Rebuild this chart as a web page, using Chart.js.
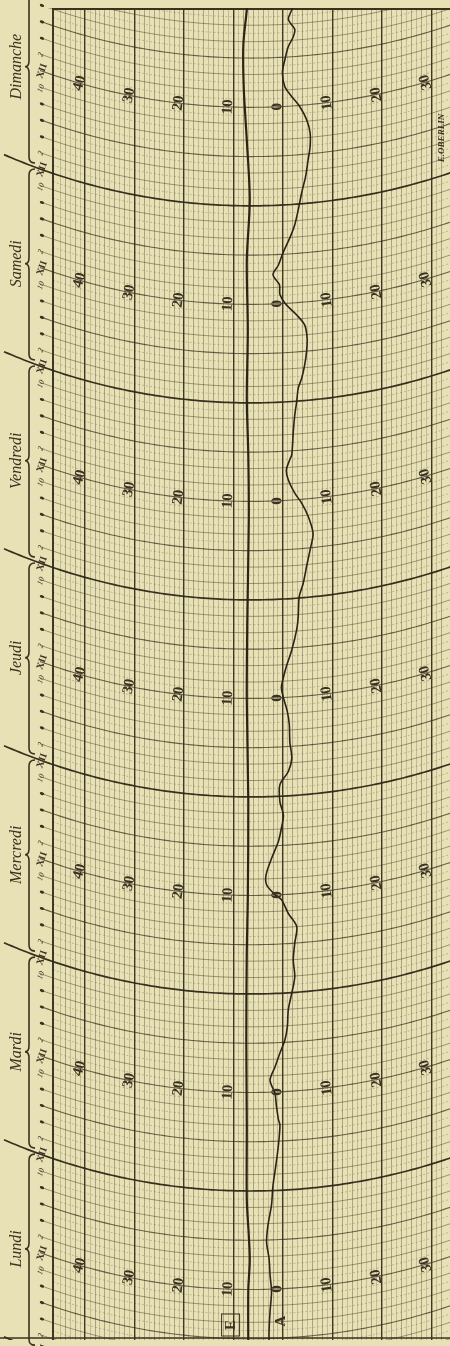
<!DOCTYPE html>
<html lang="fr">
<head>
<meta charset="utf-8">
<title>Diagramme hebdomadaire</title>
<script src="https://cdn.jsdelivr.net/npm/chart.js@4.4.1/dist/chart.umd.min.js"></script>
<style>
  html, body { margin: 0; padding: 0; background: #e8e1b5; }
  #wrap { width: 450px; height: 1346px; position: relative; }
</style>
</head>
<body>
<div id="wrap"><canvas id="diagramme"></canvas></div>
<script>
// Jours de la semaine, de bas en haut
const jours = ["Lundi", "Mardi", "Mercredi", "Jeudi", "Vendredi", "Samedi", "Dimanche"];
// Graduations écrites sur la rangée de midi
const graduations = [-40, -30, -20, -10, 0, 10, 20, 30];

const heuresA = [5.2, 6.9, 9.3, 11.7, 13.8, 15.8, 17.8, 19.9, 22.3, 24.7, 27.2, 29.6, 32.0, 32.7, 34.3, 35.9,
  37.5, 39.1, 40.8, 42.4, 44.0, 46.1, 48.1, 50.1, 52.1, 54.2, 56.2, 57.8, 59.5, 60.1, 61.3, 62.5, 64.5, 66.6,
  68.2, 69.8, 71.4, 73.5, 75.1, 76.7, 78.7, 80.8, 82.4, 84.1, 85.3, 86.3, 87.9, 89.9, 92.4, 94.0, 96.4, 98.0,
  100.1, 102.1, 104.1, 106.2, 107.8, 109.0, 110.6, 111.8, 113.1, 113.7, 116.5, 118.5, 120.2, 121.8, 123.0,
  124.6, 126.3, 127.9, 129.5, 130.7, 132.0, 133.2, 134.4, 135.6, 136.8, 138.4, 140.1, 141.7, 143.5, 145.6,
  147.6, 149.6, 151.2, 152.9, 154.5, 156.1, 157.3, 158.5, 160.2, 161.8, 163.4, 164.6, 165.5, 166.7, 167.9, 169];
const valeursA = [-2.8, -2.8, -2.6, -2.3, -2.6, -2.8, -3.3, -3.0, -2.3, -2.0, -1.4, -0.9, -0.6, -0.9, -1.3, -1.6,
  -2.6, -1.6, -0.6, 0.4, 0.9, 1.1, 1.8, 2.4, 2.1, 2.4, 2.8, 1.1, -0.3, -1.6, -3.3, -3.4, -2.3, -0.9,
  -0.3, 0.1, -0.6, -0.6, 1.1, 1.8, 1.4, 1.3, 0.9, 0.1, -0.3, 0.0, 0.7, 1.8, 2.8, 3.1, 3.3, 4.1,
  4.8, 5.5, 6.1, 5.1, 3.8, 2.4, 1.1, 0.7, 1.4, 1.8, 2.1, 2.4, 2.8, 3.1, 3.8,
  4.4, 4.8, 4.9, 4.4, 2.8, 0.6, -0.6, -0.7, -2.0, -0.9, 0.1, 1.4, 2.4, 3.1, 3.8,
  4.6, 5.1, 5.5, 5.5, 4.8, 3.4, 1.8, 0.4, -0.1, 0.4, 1.1, 2.1, 2.4, 1.1, 1.8, 2.2];

// Ligne E (presque droite)
const heuresE = [5.2, 11.9, 15.6, 18.6, 22.9, 32.0, 42.4, 53.4, 59.5, 71.6, 83.8, 93.6, 105.7, 113.7, 120.4,
  128.9, 137.4, 144.7, 152.0, 158.1, 163.6, 167.9, 169];
const valeursE = [-7.0, -7.0, -6.7, -6.9, -7.3, -7.3, -7.4, -7.3, -7.1, -7.0, -7.3, -7.2, -6.9, -7.0, -7.3,
  -7.1, -7.3, -6.7, -7.3, -7.9, -8.0, -7.3, -7.2];

const encre = '#3a3120';
const RAYON = 620; // rayon des arcs du papier

// y d'un arc (heure t) à la position px
function arcY(chart, t, px) {
  const { x, y } = chart.scales;
  const dx = px - x.getPixelForValue(-6.5);
  return y.getPixelForValue(t) - (RAYON - Math.sqrt(RAYON * RAYON - dx * dx));
}
function pente(chart, px) {
  const dx = px - chart.scales.x.getPixelForValue(-6.5);
  return -dx / Math.sqrt(RAYON * RAYON - dx * dx);
}
function texteTourne(ctx, txt, px, py, angle) {
  ctx.save();
  ctx.translate(px, py);
  ctx.rotate(angle);
  ctx.fillText(txt, 0, 0);
  ctx.restore();
}

const papier = {
  id: 'papier',
  beforeDraw(chart) {
    const c = chart.ctx;
    c.save();
    c.fillStyle = '#e8e1b5';
    c.fillRect(0, 0, chart.width, chart.height);
    c.restore();
  },
  beforeDatasetsDraw(chart) {
    const ctx = chart.ctx;
    const area = chart.chartArea;
    ctx.save();
    ctx.beginPath();
    ctx.rect(0, area.top, chart.width, area.bottom - area.top);
    ctx.clip();
    for (let h = 0; h <= 172; h++) {
      let x0 = area.left;
      if (h % 24 === 0) { ctx.lineWidth = 1.7; ctx.strokeStyle = 'rgba(45,38,22,0.95)'; x0 = 4; ctx.setLineDash([]); }
      else if (h % 6 === 0) { ctx.lineWidth = 1.1; ctx.strokeStyle = 'rgba(50,42,25,0.7)'; x0 = 40; ctx.setLineDash([]); }
      else if (h % 2 === 0) { ctx.lineWidth = 0.8; ctx.strokeStyle = 'rgba(55,47,28,0.55)'; x0 = 40; ctx.setLineDash([]); }
      else { ctx.lineWidth = 0.7; ctx.strokeStyle = 'rgba(55,47,28,0.35)'; ctx.setLineDash([2, 2]); }
      ctx.beginPath();
      for (let px = x0; px <= area.right + 4; px += 4) {
        const py = arcY(chart, h, px);
        if (px === x0) ctx.moveTo(px, py); else ctx.lineTo(px, py);
      }
      ctx.stroke();
    }
    ctx.setLineDash([]);
    // bords haut et bas
    ctx.strokeStyle = encre;
    ctx.lineWidth = 2;
    ctx.beginPath();
    ctx.moveTo(area.left, area.top + 1);
    ctx.lineTo(area.right, area.top + 1);
    ctx.stroke();
    ctx.restore();
    ctx.save();
    ctx.strokeStyle = encre;
    ctx.lineWidth = 1.5;
    ctx.beginPath();
    ctx.moveTo(0, area.bottom - 2);
    ctx.lineTo(chart.width, area.bottom - 2);
    ctx.stroke();
    ctx.restore();
  },
  afterDatasetsDraw(chart) {
    const ctx = chart.ctx;
    const x = chart.scales.x;
    ctx.save();
    ctx.fillStyle = encre;
    ctx.strokeStyle = encre;
    ctx.textAlign = 'center';
    ctx.textBaseline = 'middle';

    // chiffres des rangées de midi
    ctx.font = 'bold 15px "Liberation Serif"';
    jours.forEach((j, d) => {
      const t = d * 24 + 12;
      graduations.forEach(g => {
        const px = x.getPixelForValue(g - 1.1);
        texteTourne(ctx, String(Math.abs(g)), px, arcY(chart, t, px), -Math.PI / 2 + Math.atan(pente(chart, px)));
      });
    });
    // repères E et A
    ctx.font = 'bold 15px "Liberation Serif"';
    texteTourne(ctx, 'E', x.getPixelForValue(-10.4), 1325, -Math.PI / 2);
    texteTourne(ctx, 'A', x.getPixelForValue(-0.3), 1321, -Math.PI / 2);
    ctx.lineWidth = 1;
    ctx.strokeRect(x.getPixelForValue(-12.4), 1314, 18, 22);

    // heures à gauche
    for (let h = 0; h <= 170; h += 2) {
      const py = arcY(chart, h, 42);
      const ang = -Math.PI / 2 + Math.atan(pente(chart, 42));
      if (h % 12 === 0) {
        ctx.font = 'bold 10px "Liberation Serif"';
        texteTourne(ctx, 'XII', 42, py, ang);
      } else if (h % 12 === 10) {
        ctx.font = 'italic 8px "Liberation Serif"';
        texteTourne(ctx, '10', 41, py + 1, ang);
      } else if (h % 12 === 2) {
        ctx.font = 'italic 8px "Liberation Serif"';
        texteTourne(ctx, '2', 41, py, ang);
      } else {
        ctx.beginPath();
        ctx.ellipse(42, py, 2.3, 1.4, Math.atan(pente(chart, 42)), 0, Math.PI * 2);
        ctx.fill();
      }
    }

    // accolades et noms des jours
    ctx.lineWidth = 1.6;
    ctx.font = 'italic 16px "Liberation Serif"';
    jours.forEach((j, d) => {
      const yb = arcY(chart, d * 24, 32) - 3;
      const yh = arcY(chart, d * 24 + 24, 32) + 3;
      const ym = arcY(chart, d * 24 + 12, 30);
      ctx.beginPath();
      ctx.moveTo(35, yb);
      ctx.quadraticCurveTo(29, yb, 29, yb - 6);
      ctx.lineTo(29, ym + 6);
      ctx.quadraticCurveTo(29, ym, 25, ym);
      ctx.quadraticCurveTo(29, ym, 29, ym - 6);
      ctx.lineTo(29, yh + 6);
      ctx.quadraticCurveTo(29, yh, 35, yh);
      ctx.stroke();
      texteTourne(ctx, j, 17, ym, -Math.PI / 2);
    });

    // signature
    ctx.font = 'bold italic 9px "Liberation Serif"';
    texteTourne(ctx, 'E.OBERLIN', 442, 138, -Math.PI / 2);
    ctx.restore();
  }
};

const ctx = document.getElementById('diagramme').getContext('2d');
new Chart(ctx, {
  type: 'scatter',
  data: {
    datasets: [
      {
        label: 'A',
        data: heuresA.map((h, i) => ({ x: valeursA[i], y: h })),
        showLine: true,
        borderColor: '#2b2316',
        borderWidth: 1.6,
        pointRadius: 0,
        tension: 0.3
      },
      {
        label: 'E',
        data: heuresE.map((h, i) => ({ x: valeursE[i], y: h })),
        showLine: true,
        borderColor: '#2b2316',
        borderWidth: 2.2,
        pointRadius: 0,
        tension: 0.3
      }
    ]
  },
  options: {
    responsive: true,
    maintainAspectRatio: false,
    animation: false,
    layout: { padding: { left: 53, top: 8, right: 0, bottom: 6 } },
    plugins: { legend: { display: false }, tooltip: { enabled: false } },
    scales: {
      x: {
        type: 'linear',
        min: -46.5,
        max: 33.8,
        ticks: { display: false, stepSize: 1 },
        border: { display: false },
        afterFit: s => { s.height = 0; },
        grid: {
          drawTicks: false,
          color: c => {
            const v = c.tick.value;
            if (v < -46 || Math.abs(v % 10) < 0.01) return 'rgba(45,38,22,0.9)';
            if (Math.abs(v % 2) < 0.01) return 'rgba(55,47,28,0.5)';
            return 'rgba(55,47,28,0.3)';
          },
          lineWidth: c => {
            const v = c.tick.value;
            if (v < -46) return 2;
            if (Math.abs(v % 10) < 0.01) return 1.4;
            return 0.7;
          }
        }
      },
      y: {
        type: 'linear',
        min: 5.85,
        max: 168.1,
        display: false
      }
    }
  },
  plugins: [papier]
});
</script>
</body>
</html>
